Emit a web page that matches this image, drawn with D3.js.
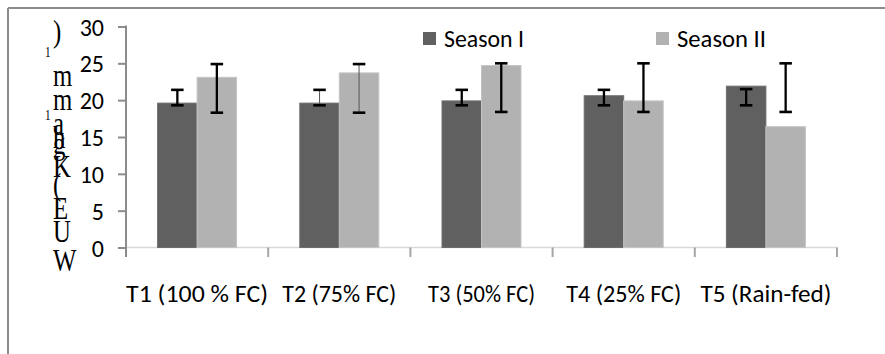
<!DOCTYPE html>
<html>
<head>
<meta charset="utf-8">
<script src="https://cdn.jsdelivr.net/npm/d3@7"></script>
<style>
  html, body { margin: 0; padding: 0; background: #fff; }
  svg { display: block; }
  .sans { font-family: Carlito, Lato, "Open Sans", sans-serif; fill: #000; }
  .serif { font-family: "Liberation Serif", "DejaVu Serif", serif; fill: #000; }
</style>
</head>
<body>
<svg id="chart" width="885" height="354"></svg>
<script>
// Water use efficiency by irrigation treatment, two seasons
const categories = ["T1 (100 % FC)", "T2 (75% FC)", "T3 (50% FC)", "T4 (25% FC)", "T5 (Rain-fed)"];
const seriesNames = ["Season I", "Season II"];
const season1 = [19.6, 19.6, 19.9, 20.6, 21.9];
const season2 = [23.1, 23.7, 24.7, 19.9, 16.4];
// error bar extents (low, high)
const season1Low  = [19.3, 19.3, 19.3, 19.3, 19.3];
const season1High = [21.4, 21.4, 21.4, 21.4, 21.5];
const season2Low  = [18.3, 18.3, 18.4, 18.4, 18.4];
const season2High = [24.9, 24.9, 25.0, 25.0, 25.0];
const yTicks = [0, 5, 10, 15, 20, 25, 30];

const colors = { "Season I": "#606060", "Season II": "#b2b2b2" };

// rendered widths of the text runs, so they sit the same in any fallback font
const catLabelWidth = [142, 114, 107, 115, 131];
const legendLabelWidth = [80, 89];

const svg = d3.select("#chart");

// outer frame (top and left edges visible)
svg.append("line").attr("x1", 8).attr("y1", 8).attr("x2", 885).attr("y2", 8)
  .attr("stroke", "#8c8c8c").attr("stroke-width", 2);
svg.append("line").attr("x1", 8).attr("y1", 8).attr("x2", 8).attr("y2", 354)
  .attr("stroke", "#8c8c8c").attr("stroke-width", 2);

const x = d3.scaleBand().domain(categories).range([126, 837]).paddingInner(0).paddingOuter(0);
const xs = d3.scaleBand().domain(seriesNames).range([0, x.bandwidth()]).paddingInner(0).paddingOuter(0.8);
const y = d3.scaleLinear().domain([0, 30]).range([247.5, 26.5]);

const rows = categories.map((c, i) => ({
  cat: c,
  vals: [
    { s: "Season I", v: season1[i], lo: season1Low[i], hi: season1High[i] },
    { s: "Season II", v: season2[i], lo: season2Low[i], hi: season2High[i] }
  ]
}));

// x axis baseline
svg.append("line").attr("x1", x.range()[0]).attr("x2", x.range()[1])
  .attr("y1", y(0)).attr("y2", y(0)).attr("stroke", "#d9d9d9").attr("stroke-width", 1.5);

// category boundary ticks
const bounds = categories.map(c => x(c) + x.bandwidth());
svg.append("g").selectAll("line").data(bounds).join("line")
  .attr("x1", d => d).attr("x2", d => d)
  .attr("y1", y(0)).attr("y2", y(0) + 9.5)
  .attr("stroke", "#a6a6a6").attr("stroke-width", 2);

// bars
const groups = svg.append("g").selectAll("g").data(rows).join("g")
  .attr("transform", d => `translate(${x(d.cat)},0)`);

groups.selectAll("rect").data(d => d.vals).join("rect")
  .attr("x", d => xs(d.s))
  .attr("y", d => y(d.v))
  .attr("width", xs.bandwidth())
  .attr("height", d => y(0) - y(d.v))
  .attr("fill", d => colors[d.s])
  .attr("stroke", d => d.s === "Season I" ? "#6e6e6e" : "#c4c4c4")
  .attr("stroke-width", 1);

// error bars
const capW = 12.5;
groups.each(function(d, gi) {
  const g = d3.select(this);
  d.vals.forEach(v => {
    const cx = xs(v.s) + xs.bandwidth() / 2;
    const thin = gi === 1;
    g.append("line")
      .attr("x1", cx).attr("x2", cx)
      .attr("y1", y(v.hi)).attr("y2", y(v.lo))
      .attr("stroke", thin ? "#555" : "#000")
      .attr("stroke-width", thin ? 1 : 2.3);
    [v.hi, v.lo].forEach(e => {
      g.append("line")
        .attr("x1", cx - capW / 2).attr("x2", cx + capW / 2)
        .attr("y1", y(e)).attr("y2", y(e))
        .attr("stroke", "#000").attr("stroke-width", 2.6);
    });
  });
});

// y axis
const yAxis = d3.axisLeft(y).tickValues(yTicks).tickSize(8).tickSizeOuter(0).tickPadding(14);
const yg = svg.append("g").attr("transform", "translate(126,0)").call(yAxis);
yg.select(".domain").remove();
yg.selectAll(".tick line").attr("stroke", "#8c8c8c").attr("stroke-width", 2);
yg.selectAll(".tick text").attr("class", "sans").style("font-size", "24px")
  .attr("dy", "0.36em");
svg.append("line").attr("x1", 126).attr("x2", 126)
  .attr("y1", y(30) - 1).attr("y2", y(0) + 9.5)
  .attr("stroke", "#8c8c8c").attr("stroke-width", 2);

// category labels
const xAxis = d3.axisBottom(x).tickSize(0).tickPadding(37);
const xg = svg.append("g").attr("transform", `translate(0,${y(0)})`).call(xAxis);
xg.select(".domain").remove();
xg.selectAll(".tick text").attr("class", "sans").style("font-size", "24px")
  .attr("textLength", (d, i) => catLabelWidth[i])
  .attr("lengthAdjust", "spacingAndGlyphs");

// legend
const legendX = [423, 656];
const lg = svg.append("g").selectAll("g").data(seriesNames).join("g")
  .attr("transform", (d, i) => `translate(${legendX[i]},0)`);
lg.append("rect").attr("x", 0).attr("y", 32).attr("width", 13).attr("height", 13)
  .attr("fill", d => colors[d]);
lg.append("text").attr("class", "sans").attr("x", 21).attr("y", 46.5)
  .style("font-size", "24px")
  .attr("textLength", (d, i) => legendLabelWidth[i])
  .attr("lengthAdjust", "spacingAndGlyphs")
  .text(d => d);

// y axis title, glyphs stacked upright from bottom to top
const titleGlyphs = [
  { t: "W", b: 271 }, { t: "U", b: 242 }, { t: "E", b: 219 }, { t: "(", b: 195 },
  { t: "K", b: 177 }, { t: "g", b: 154 }, { t: "h", b: 148 }, { t: "a", b: 134 },
  { t: "m", b: 110 }, { t: "m", b: 86 }, { t: ")", b: 42 }
];
const tg = svg.append("g");
tg.selectAll("text").data(titleGlyphs).join("text")
  .attr("class", "serif")
  .attr("transform", d => `translate(53,${d.b}) scale(0.8,1)`)
  .style("font-size", "31px")
  .text(d => d.t);
tg.selectAll("text.sup").data([{ b: 57 }, { b: 120 }]).join("text")
  .attr("class", "serif sup")
  .attr("transform", d => `translate(45,${d.b}) scale(0.8,1)`)
  .style("font-size", "14px")
  .text("1");
</script>
</body>
</html>
